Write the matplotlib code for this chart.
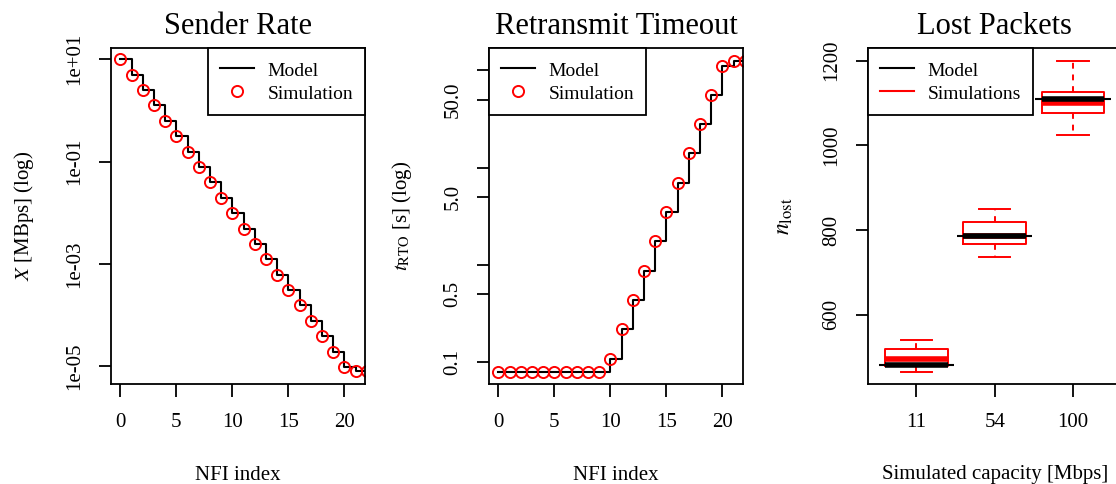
import numpy as np
import matplotlib
matplotlib.use("Agg")
import matplotlib.pyplot as plt
from matplotlib.lines import Line2D
from matplotlib.ticker import FixedLocator, FixedFormatter, NullLocator

plt.rcParams['font.family'] = ['Liberation Serif', 'DejaVu Serif']
plt.rcParams['mathtext.fontset'] = 'stix'

# --- data ---
nfi = list(range(23))
# sender rate X [MBps]
rate = [10, 5, 2.5, 1.25, 0.625, 0.3125, 0.156, 0.078, 0.039, 0.0195,
        0.00977, 0.00488, 0.00244, 0.00122, 6.1e-4, 3.05e-4, 1.53e-4,
        7.6e-5, 3.8e-5, 1.9e-5, 9.5e-6, 7.9e-6, 7.9e-6]
# retransmit timeout t_RTO [s]
rto = [0.079, 0.079, 0.079, 0.079, 0.079, 0.079, 0.079, 0.079, 0.079, 0.079,
       0.109, 0.218, 0.436, 0.87, 1.75, 3.5, 7.0, 14.0, 28.0, 56.0,
       111.6, 125.0, 125.0]

capacity = ['11', '54', '100']
lost_model = [481, 785, 1110]
lost_whislo = [465, 736, 1024]
lost_q1 = [479, 768, 1076]
lost_med = [495, 786, 1101]
lost_q3 = [518, 818, 1127]
lost_whishi = [540, 850, 1200]

red = '#ff0000'
W, H = 1116, 484


def frame(ax):
    for s in ax.spines.values():
        s.set_linewidth(1.3)
    ax.tick_params(axis='both', which='major', direction='out', length=9,
                   width=1.3, labelsize=15, top=False, right=False)
    ax.tick_params(axis='x', pad=12)
    ax.tick_params(axis='y', pad=10)
    for lab in ax.get_yticklabels():
        lab.set_rotation(90)
        lab.set_va('center')


def leg(ax, handles, labels, loc):
    lg = ax.legend(handles, labels, loc=loc, fontsize=14, frameon=True,
                   fancybox=False, framealpha=1, edgecolor='black',
                   borderaxespad=0, borderpad=0.62, handlelength=1.75,
                   handleheight=1.16, handletextpad=0.7, labelspacing=0.14)
    lg.get_frame().set_linewidth(1.3)
    return lg


fig = plt.figure(figsize=(W / 100, H / 100), dpi=100)
ax_w, ax_h = 254 / W, 336 / H
bottom = 1 - 384 / H
ax1 = fig.add_axes([111 / W, bottom, ax_w, ax_h])
ax2 = fig.add_axes([489 / W, bottom, ax_w, ax_h])
ax3 = fig.add_axes([867.7 / W, bottom, ax_w, ax_h])

# sender rate
ax1.plot(nfi, rate, color='black', lw=1.5, drawstyle='steps-post')
ax1.plot(nfi, rate, 'o', mfc='none', mec=red, mew=1.4, ms=8)
ax1.set_yscale('log')
ax1.set_xlim(-0.84, 21.84)
ax1.set_ylim(10 ** -5.352, 10 ** 1.221)
ax1.yaxis.set_major_locator(FixedLocator([1e1, 1e-1, 1e-3, 1e-5]))
ax1.yaxis.set_major_formatter(FixedFormatter(['1e+01', '1e-01', '1e-03', '1e-05']))
ax1.yaxis.set_minor_locator(NullLocator())
ax1.set_xticks([0, 5, 10, 15, 20])
ax1.set_title('Sender Rate', fontsize=22, pad=10)
ax1.set_xlabel('NFI index', fontsize=15, labelpad=24)
ax1.set_ylabel('$X$ [MBps] (log)', fontsize=15, labelpad=21)
frame(ax1)
leg(ax1, [Line2D([], [], color='black', lw=1.5),
          Line2D([], [], ls='none', marker='o', mfc='none', mec=red, mew=1.4, ms=8)],
    ['Model', 'Simulation'], 'upper right')

# retransmit timeout
ax2.plot(nfi, rto, color='black', lw=1.5, drawstyle='steps-post')
ax2.plot(nfi, rto, 'o', mfc='none', mec=red, mew=1.4, ms=8)
ax2.set_yscale('log')
ax2.set_xlim(-0.84, 21.84)
ax2.set_ylim(0.0598, 170)
ax2.yaxis.set_major_locator(FixedLocator([0.1, 0.5, 1, 5, 10, 50, 100]))
ax2.yaxis.set_major_formatter(FixedFormatter(['0.1', '0.5', '', '5.0', '', '50.0', '']))
ax2.yaxis.set_minor_locator(NullLocator())
ax2.set_xticks([0, 5, 10, 15, 20])
ax2.set_title('Retransmit Timeout', fontsize=22, pad=10)
ax2.set_xlabel('NFI index', fontsize=15, labelpad=24)
ax2.set_ylabel(r'$t_{\mathrm{RTO}}$ [s] (log)', fontsize=15, labelpad=21)
frame(ax2)
leg(ax2, [Line2D([], [], color='black', lw=1.5),
          Line2D([], [], ls='none', marker='o', mfc='none', mec=red, mew=1.4, ms=8)],
    ['Model', 'Simulation'], 'upper left')

# lost packets
pos = [1, 2, 3]
stats = []
for i in range(len(capacity)):
    stats.append(dict(med=lost_med[i], q1=lost_q1[i], q3=lost_q3[i],
                      whislo=lost_whislo[i], whishi=lost_whishi[i], fliers=[]))
ax3.bxp(stats, positions=pos, widths=0.8, capwidths=0.4, showfliers=False,
        boxprops=dict(color=red, lw=1.4),
        whiskerprops=dict(color=red, lw=1.4, ls=(0, (3, 3))),
        capprops=dict(color=red, lw=1.4),
        medianprops=dict(color=red, lw=4, solid_capstyle='butt'))
p = np.array(pos, dtype=float)
ax3.hlines(lost_model, p - 0.48, p + 0.48, color='black', lw=1.5, zorder=4)
ax3.hlines(lost_model, p - 0.4, p + 0.4, color='black', lw=4, zorder=4)
ax3.set_xlim(0.38, 3.62)
ax3.set_ylim(436.4, 1230)
ax3.set_yticks([600, 800, 1000, 1200])
ax3.set_xticks(pos)
ax3.set_xticklabels(capacity)
ax3.set_title('Lost Packets', fontsize=22, pad=10)
ax3.set_xlabel('Simulated capacity [Mbps]', fontsize=15, labelpad=24)
ax3.set_ylabel(r'$n_{\mathrm{lost}}$', fontsize=17, labelpad=20)
frame(ax3)
leg(ax3, [Line2D([], [], color='black', lw=1.5),
          Line2D([], [], color=red, lw=1.5)],
    ['Model', 'Simulations'], 'upper left')

fig.savefig('out.png', dpi=100)
